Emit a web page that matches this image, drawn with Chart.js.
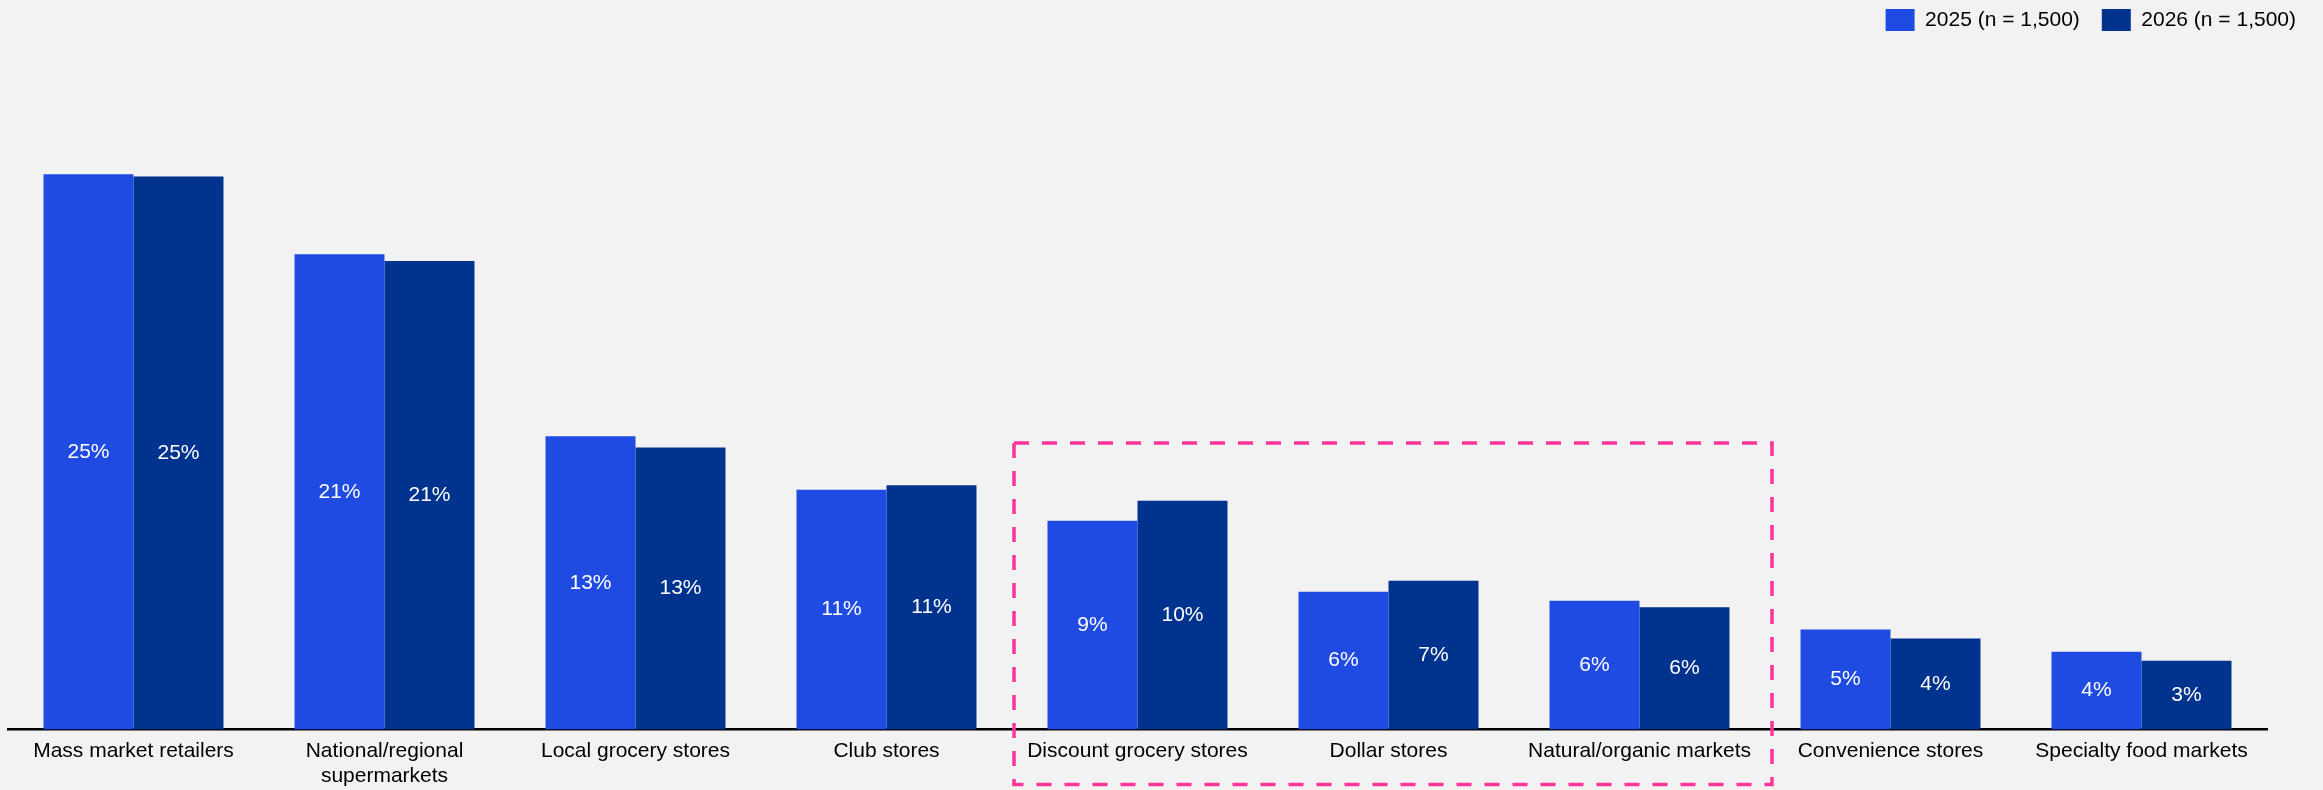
<!DOCTYPE html>
<html>
<head>
<meta charset="utf-8">
<script src="https://cdn.jsdelivr.net/npm/chart.js@4.4.1/dist/chart.umd.min.js"></script>
<style>
  html, body { margin: 0; padding: 0; background: #f2f2f2; }
  #wrap { width: 2323px; height: 790px; }
</style>
</head>
<body>
<div id="wrap"><canvas id="channelChart" width="2323" height="790"></canvas></div>
<script>
// Where shoppers buy groceries, share of respondents by channel
const categories = [
  'Mass market retailers',
  ['National/regional', 'supermarkets'],
  'Local grocery stores',
  'Club stores',
  'Discount grocery stores',
  'Dollar stores',
  'Natural/organic markets',
  'Convenience stores',
  'Specialty food markets'
];
const seriesLabels = ['2025 (n = 1,500)', '2026 (n = 1,500)'];
const share2025 = [25.0, 21.4, 13.2, 10.8, 9.4, 6.2, 5.8, 4.5, 3.5];
const share2026 = [24.9, 21.1, 12.7, 11.0, 10.3, 6.7, 5.5, 4.1, 3.1];
// channels framed by the dashed box (first and last index)
const highlightFrom = 4;
const highlightTo = 6;

const FONT = '"Liberation Sans", Arial, sans-serif';

// white percentage labels in the middle of each bar
const barValueLabels = {
  id: 'barValueLabels',
  afterDatasetsDraw(chart) {
    const ctx = chart.ctx;
    ctx.save();
    ctx.fillStyle = '#ffffff';
    ctx.font = '21px ' + FONT;
    ctx.textAlign = 'center';
    ctx.textBaseline = 'middle';
    chart.data.datasets.forEach((ds, i) => {
      chart.getDatasetMeta(i).data.forEach((bar, j) => {
        const { x, y, base } = bar.getProps(['x', 'y', 'base'], true);
        ctx.fillText(Math.round(ds.data[j]) + '%', x, (y + base) / 2);
      });
    });
    ctx.restore();
  }
};

// pink dashed frame around the discount channels
const highlightBox = {
  id: 'highlightBox',
  afterDraw(chart) {
    const { ctx, chartArea } = chart;
    const x = chart.scales.x;
    const y = chart.scales.y;
    const half = (x.getPixelForValue(1) - x.getPixelForValue(0)) / 2;
    const left = x.getPixelForValue(highlightFrom) - half + 2;
    const right = x.getPixelForValue(highlightTo) + half + 7;
    const top = y.getPixelForValue(12.9);
    const bottom = chartArea.bottom + 55;
    ctx.save();
    ctx.strokeStyle = '#fd349c';
    ctx.lineWidth = 3.5;
    ctx.setLineDash([15, 13]);
    ctx.strokeRect(left, top, right - left, bottom - top);
    ctx.restore();
  }
};

new Chart(document.getElementById('channelChart'), {
  type: 'bar',
  data: {
    labels: categories,
    datasets: [{
      label: seriesLabels[0],
      data: share2025,
      backgroundColor: '#1f4be3'
    }, {
      label: seriesLabels[1],
      data: share2026,
      backgroundColor: '#00338d'
    }]
  },
  options: {
    responsive: false,
    animation: false,
    datasets: {
      bar: { categoryPercentage: 0.717, barPercentage: 1, borderWidth: 0 }
    },
    // legend sits tight against the top edge
    layout: { padding: { left: 8, right: 5, top: -13, bottom: 0 } },
    scales: {
      x: {
        grid: { display: false, drawTicks: false },
        border: { display: true, color: '#000000', width: 2.5 },
        ticks: {
          color: '#000000',
          font: { family: FONT, size: 21, lineHeight: 1.15 },
          padding: 10,
          maxRotation: 0,
          autoSkip: false
        },
        afterFit(scale) { scale.height = 60.5; }
      },
      y: {
        position: 'right',
        min: 0,
        max: 31,
        grid: { display: false },
        border: { display: false },
        ticks: { display: false },
        afterFit(scale) { scale.width = 51; }
      }
    },
    plugins: {
      legend: {
        position: 'top',
        align: 'end',
        labels: {
          boxWidth: 29,
          boxHeight: 22,
          padding: 22,
          color: '#000000',
          font: { family: FONT, size: 21 }
        }
      },
      tooltip: { enabled: false }
    }
  },
  plugins: [barValueLabels, highlightBox]
});
</script>
</body>
</html>
